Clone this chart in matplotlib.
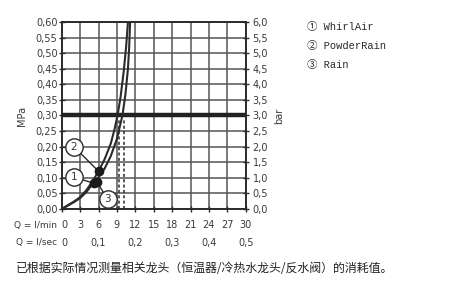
import matplotlib
matplotlib.use("Agg")
import matplotlib.pyplot as plt

# flow (l/min) vs pressure (MPa)
flow_powder = [0, 1, 2, 3, 4, 5, 6, 7, 8, 8.6, 9.1, 9.6, 10.1, 10.5, 10.8]
press_powder = [0, 0.012, 0.024, 0.038, 0.06, 0.088, 0.121, 0.16, 0.21, 0.255, 0.30, 0.36, 0.44, 0.52, 0.60]
flow_rain = [0, 1, 2, 3, 4, 5, 6, 7, 8, 9, 9.9, 10.4, 10.8, 11.0, 11.15]
press_rain = [0, 0.011, 0.022, 0.035, 0.054, 0.079, 0.102, 0.13, 0.17, 0.225, 0.30, 0.37, 0.45, 0.52, 0.60]

# operating points: label, flow, pressure, callout position
points = [("1", 5.2, 0.083, 2.0, 0.102),
          ("2", 6.0, 0.121, 2.0, 0.200),
          ("3", 5.7, 0.088, 7.5, 0.031)]
dotted_flows = [9.4, 10.1]
dotted_top = 0.29
ref_pressure = 0.30

lmin_ticks = list(range(0, 31, 3))
lsec_ticks = [0, 0.1, 0.2, 0.3, 0.4, 0.5]
mpa_ticks = [i * 0.05 for i in range(13)]
bar_ticks = [i * 0.5 for i in range(13)]

legend_items = ["① WhirlAir", "② PowderRain", "③ Rain"]
footer = "已根据实际情况测量相关龙头（恒温器/冷热水龙头/反水阀）的消耗值。"

LINE = "#2b2b2b"
GRID = "#555555"
TXT = "#3a3a3a"
font = "DejaVu Sans"

fig = plt.figure(figsize=(4.63, 2.95), dpi=100)
ax = fig.add_axes([0.1333, 0.2915, 0.3974, 0.634])
ax.set_xlim(0, 30)
ax.set_ylim(0, 0.6)
ax.set_xticks(lmin_ticks)
ax.set_yticks(mpa_ticks)
ax.grid(True, color=GRID, linewidth=1.1)
ax.set_axisbelow(True)
for s in ax.spines.values():
    s.set_color(LINE)
    s.set_linewidth(1.4)

ax.axhline(ref_pressure, color="#222222", linewidth=3.2, zorder=3)
for fx in dotted_flows:
    ax.plot([fx, fx], [0, dotted_top], color=LINE, linewidth=1.1,
            linestyle=(0, (2, 1.5)), zorder=3)

ax.plot(flow_powder, press_powder, color=LINE, linewidth=1.5, zorder=4)
ax.plot(flow_rain, press_rain, color=LINE, linewidth=1.5, zorder=4)

for lab, px, py, cx, cy in points:
    ax.plot([cx, px], [cy, py], color=LINE, linewidth=1.0, zorder=5)
    ax.plot(px, py, "o", color="#1a1a1a", markersize=6, zorder=6)
    ax.plot(cx, cy, "o", markersize=12.5, markerfacecolor="white",
            markeredgecolor=LINE, markeredgewidth=1.0, zorder=7, clip_on=False)
    ax.text(cx, cy, lab, ha="center", va="center", fontsize=7.5,
            family=font, color=TXT, zorder=8)

ax.set_yticklabels([f"{v:.2f}".replace(".", ",") for v in mpa_ticks],
                   fontsize=7, color=TXT, family=font)
ax.tick_params(axis="y", direction="inout", length=4, width=1, colors=LINE,
               labelcolor=TXT, pad=1)
ax.tick_params(axis="x", direction="inout", length=4, width=1, colors=LINE,
               labelbottom=False)
ax.set_ylabel("MPa", fontsize=7, color=TXT, family=font, labelpad=6)

ax2 = ax.twinx()
ax2.set_ylim(0, 6)
ax2.set_yticks(bar_ticks)
ax2.set_yticklabels([f"{v:.1f}".replace(".", ",") for v in bar_ticks],
                    fontsize=7, color=TXT, family=font)
ax2.tick_params(axis="y", direction="inout", length=4, width=1, colors=LINE,
                labelcolor=TXT, pad=3)
for s in ax2.spines.values():
    s.set_visible(False)
ax2.set_ylabel("bar", fontsize=7, color=TXT, family=font, labelpad=4)

xt = ax.get_xaxis_transform()
for v in lmin_ticks:
    ax.text(v + (0.4 if v == 0 else 0), -0.086, str(v), transform=xt,
            ha="center", va="center", fontsize=7, color=TXT, family=font)
for v in lsec_ticks:
    lab = "0" if v == 0 else f"{v:.1f}".replace(".", ",")
    ax.text(v * 60 + (0.4 if v == 0 else 0), -0.18, lab, transform=xt,
            ha="center", va="center", fontsize=7, color=TXT, family=font)
ax.text(-0.8, -0.086, "Q = l/min", transform=xt, ha="right", va="center",
        fontsize=6.5, color=TXT, family=font)
ax.text(-0.8, -0.18, "Q = l/sec", transform=xt, ha="right", va="center",
        fontsize=6.5, color=TXT, family=font)

for i, item in enumerate(legend_items):
    fig.text(0.663, 1 - (27 + 19 * i) / 295, item, ha="left", va="center",
             fontsize=7.5, color="#2a2a2a",
             family=["Liberation Mono", "Noto Sans CJK SC"])

fig.text(16 / 463, 1 - 268 / 295, footer, ha="left", va="center",
         fontsize=8.6, color="#222222", family=["Noto Sans CJK SC", "DejaVu Sans"])

fig.savefig("out.png", dpi=100)
